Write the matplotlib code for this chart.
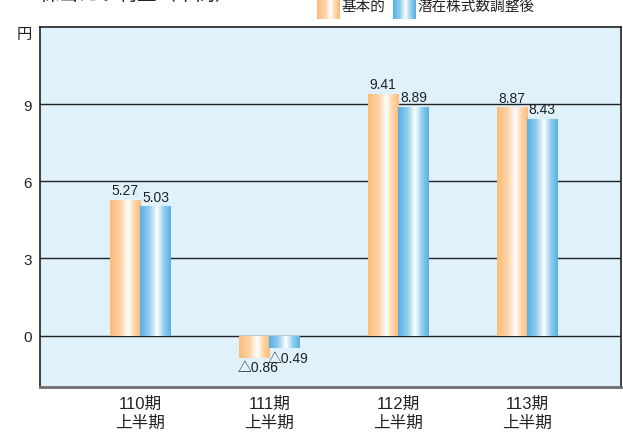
import matplotlib.pyplot as plt
import numpy as np
from matplotlib.colors import LinearSegmentedColormap

plt.rcParams['font.family'] = ['Liberation Sans', 'Noto Sans CJK JP', 'DejaVu Sans']

periods = ['110期\n上半期', '111期\n上半期', '112期\n上半期', '113期\n上半期']
basic = [5.27, -0.86, 9.41, 8.87]
diluted = [5.03, -0.49, 8.89, 8.43]
series_names = ['基本的', '潜在株式数調整後']

orange_map = LinearSegmentedColormap.from_list(
    'org', [(0, '#fdbb78'), (0.35, '#fed4a8'), (0.6, '#ffffff'), (0.8, '#fed4a8'), (1, '#fdbb78')])
blue_map = LinearSegmentedColormap.from_list(
    'blu', [(0, '#55b1e4'), (0.3, '#93cdee'), (0.55, '#ffffff'), (0.78, '#93cdee'), (1, '#55b1e4')])
grad = np.linspace(0, 1, 64).reshape(1, -1)


def label(v):
    if v < 0:
        return '△%.2f' % abs(v)
    return '%.2f' % v


fig = plt.figure(figsize=(6.23, 4.35), dpi=100)
ax = fig.add_axes([40 / 623, 47 / 435, 581 / 623, 360 / 435])
ax.set_facecolor('#dff1fb')

x = np.arange(len(periods))
w = 0.236
for vals, offs, cmap in [(basic, -w / 2, orange_map), (diluted, w / 2, blue_map)]:
    bars = ax.bar(x + offs, vals, w, color='none', edgecolor='none', zorder=3)
    for b, v in zip(bars, vals):
        x0, y0 = b.get_x(), b.get_y()
        im = ax.imshow(grad, cmap=cmap, aspect='auto', zorder=3,
                       extent=[x0, x0 + b.get_width(), y0, y0 + b.get_height()])
        im.set_clip_path(b)
        if v >= 0:
            ax.text(x0 + b.get_width() / 2, v + 0.1, label(v), ha='center', va='bottom',
                    fontsize=10, color='#222222', zorder=4)
        else:
            ax.text(x0 + b.get_width() / 2 + 0.03, v - 0.1, label(v), ha='center', va='top',
                    fontsize=10, color='#222222', zorder=4)

ax.set_xlim(-0.78, 3.73)
ax.set_ylim(-2, 12)
for gy in [0, 3, 6, 9]:
    ax.axhline(gy, color='#222222', lw=1, zorder=2)
ax.set_yticks([0, 3, 6, 9, 11.8])
ax.set_yticklabels(['0', '3', '6', '9', '円'], fontsize=11, color='#222222')
ax.set_xticks(x)
ax.set_xticklabels(periods, fontsize=12, color='#222222', linespacing=1.35)
ax.tick_params(length=0, pad=6)
ax.tick_params(axis='x', pad=6)
for s in ['left', 'top', 'right']:
    ax.spines[s].set_color('#222222')
    ax.spines[s].set_linewidth(1.2)
ax.spines['bottom'].set_color('#6e6e6e')
ax.spines['bottom'].set_linewidth(2)

# legend (cut off at the top, like the original)
for (lx, cmap), tx, name in zip([(317, orange_map), (393, blue_map)], [342, 417], series_names):
    lax = fig.add_axes([lx / 623, 415 / 435, 23 / 623, 22 / 435])
    lax.imshow(grad, cmap=cmap, aspect='auto')
    lax.axis('off')
    fig.text(tx / 623, 428 / 435, name, fontsize=10.5, va='center', ha='left', color='#222222')

fig.text(20 / 623, 1.012, '１株当たり利益（中間）', fontsize=14, va='center', ha='left', color='#222222')

fig.savefig('out.png', dpi=100)
